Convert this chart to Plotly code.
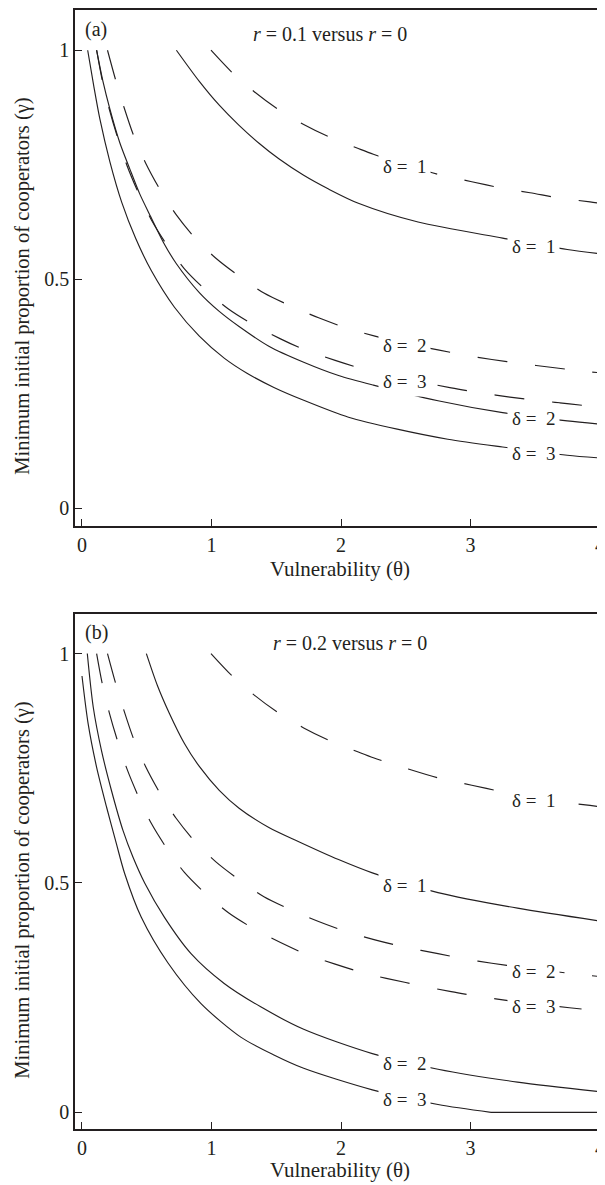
import plotly.graph_objects as go

# ---------------- data ----------------
# dashed curves: r = 0 reference (identical in both panels)
r0_d1_x = [0.996, 1.157, 1.328, 1.515, 1.712, 1.922, 2.129, 2.25, 2.5, 2.749, 3.01, 3.242, 3.46, 3.695, 3.923, 4.0]
r0_d1_y = [1.0, 0.952, 0.910, 0.871, 0.838, 0.809, 0.786, 0.773, 0.750, 0.729, 0.713, 0.699, 0.689, 0.677, 0.669, 0.666]
r0_d2_x = [0.197, 0.259, 0.325, 0.401, 0.491, 0.604, 0.727, 0.873, 1.034, 1.218, 1.405, 1.618, 1.827, 2.05, 2.262, 2.493, 2.749, 2.946, 3.165, 3.396, 3.618, 3.854, 4.0]
r0_d2_y = [1.0, 0.936, 0.875, 0.812, 0.754, 0.695, 0.641, 0.590, 0.546, 0.506, 0.470, 0.441, 0.416, 0.393, 0.376, 0.360, 0.346, 0.335, 0.325, 0.316, 0.308, 0.300, 0.296]
r0_d3_x = [0.113, 0.156, 0.210, 0.274, 0.348, 0.438, 0.535, 0.658, 0.791, 0.957, 1.131, 1.328, 1.533, 1.712, 1.955, 2.186, 2.5, 2.851, 3.086, 3.304, 3.542, 3.764, 4.0]
r0_d3_y = [1.0, 0.935, 0.872, 0.810, 0.748, 0.687, 0.630, 0.574, 0.523, 0.476, 0.435, 0.400, 0.370, 0.347, 0.323, 0.303, 0.283, 0.263, 0.252, 0.243, 0.235, 0.228, 0.221]

# panel (a): r = 0.1 (solid)
a_d1_x = [0.729, 0.906, 1.060, 1.213, 1.367, 1.520, 1.712, 1.904, 2.134, 2.595, 3.248, 3.747, 4.0]
a_d1_y = [1.0, 0.932, 0.880, 0.836, 0.797, 0.763, 0.727, 0.697, 0.666, 0.625, 0.590, 0.565, 0.556]
a_d2_x = [0.113, 0.161, 0.215, 0.292, 0.369, 0.445, 0.530, 0.630, 0.729, 0.906, 1.060, 1.213, 1.443, 1.712, 1.981, 2.250, 2.749, 3.248, 3.747, 4.0]
a_d2_y = [1.0, 0.933, 0.872, 0.798, 0.741, 0.687, 0.637, 0.580, 0.534, 0.471, 0.430, 0.397, 0.354, 0.319, 0.290, 0.269, 0.235, 0.209, 0.191, 0.184]
a_d3_x = [0.044, 0.092, 0.138, 0.215, 0.307, 0.415, 0.537, 0.714, 0.906, 1.098, 1.274, 1.482, 1.712, 2.058, 2.434, 2.825, 3.248, 3.747, 4.0]
a_d3_y = [1.0, 0.920, 0.850, 0.757, 0.668, 0.589, 0.518, 0.439, 0.376, 0.328, 0.295, 0.264, 0.236, 0.199, 0.173, 0.151, 0.134, 0.116, 0.110]

# panel (b): r = 0.2 (solid)
b_d1_x = [0.497, 0.583, 0.676, 0.791, 0.906, 1.060, 1.213, 1.443, 1.674, 1.981, 2.242, 2.749, 3.363, 4.0]
b_d1_y = [1.0, 0.930, 0.869, 0.804, 0.754, 0.702, 0.663, 0.621, 0.590, 0.551, 0.522, 0.479, 0.445, 0.417]
b_d2_x = [0.041, 0.087, 0.151, 0.228, 0.317, 0.394, 0.484, 0.637, 0.842, 1.098, 1.380, 1.712, 2.242, 2.749, 3.363, 4.0]
b_d2_y = [1.0, 0.883, 0.788, 0.701, 0.614, 0.556, 0.500, 0.425, 0.346, 0.281, 0.230, 0.181, 0.128, 0.094, 0.066, 0.045]
b_d3_x = [0.0, 0.048, 0.113, 0.190, 0.266, 0.330, 0.458, 0.663, 0.919, 1.226, 1.482, 1.712, 2.242, 2.749, 3.158, 4.0]
b_d3_y = [0.951, 0.846, 0.752, 0.665, 0.585, 0.520, 0.425, 0.326, 0.237, 0.164, 0.125, 0.096, 0.049, 0.017, 0.0, 0.0]

# curve labels
a_label_text = ["δ =\u00a0 1", "δ =\u00a0 1", "δ =\u00a0 2", "δ =\u00a0 3", "δ =\u00a0 2", "δ =\u00a0 3"]
a_label_x = [2.49, 3.49, 2.49, 2.49, 3.49, 3.49]
a_label_y = [0.746, 0.571, 0.356, 0.278, 0.197, 0.120]
b_label_text = ["δ =\u00a0 1", "δ =\u00a0 1", "δ =\u00a0 2", "δ =\u00a0 3", "δ =\u00a0 2", "δ =\u00a0 3"]
b_label_x = [3.49, 2.49, 3.49, 3.49, 2.49, 2.49]
b_label_y = [0.680, 0.495, 0.308, 0.231, 0.107, 0.027]

x_ticks = [0, 1, 2, 3, 4]
y_ticks = [0, 0.5, 1]
y_tick_text = ["0", "0.5", "1"]

# ---------------- figure ----------------
INK = "#231f20"
FONT = "Liberation Serif"
DASH = "30px,28px"

fig = go.Figure()

def add_curve(x, y, dashed, xa, ya, shape="spline"):
    fig.add_trace(go.Scatter(
        x=x, y=y, mode="lines", xaxis=xa, yaxis=ya, showlegend=False, hoverinfo="skip",
        line=dict(color=INK, width=1.15, dash=DASH if dashed else "solid",
                  shape=shape, smoothing=0.8 if shape == "spline" else None)))

for (xs, ys) in [(r0_d1_x, r0_d1_y), (r0_d2_x, r0_d2_y), (r0_d3_x, r0_d3_y)]:
    add_curve(xs, ys, True, "x", "y")
    add_curve(xs, ys, True, "x2", "y2")
for (xs, ys) in [(a_d1_x, a_d1_y), (a_d2_x, a_d2_y), (a_d3_x, a_d3_y)]:
    add_curve(xs, ys, False, "x", "y")
for (xs, ys) in [(b_d1_x, b_d1_y), (b_d2_x, b_d2_y)]:
    add_curve(xs, ys, False, "x2", "y2")
# delta = 3 in panel (b) bends sharply onto the floor at gamma = 0
add_curve(b_d3_x[:-1], b_d3_y[:-1], False, "x2", "y2")
add_curve(b_d3_x[-2:], b_d3_y[-2:], False, "x2", "y2", shape="linear")

lab_font = dict(family=FONT, size=19, color=INK)
annotations = []
for t, x, y in zip(a_label_text, a_label_x, a_label_y):
    annotations.append(dict(text=t, x=x, y=y, xref="x", yref="y", showarrow=False,
                            bgcolor="white", borderpad=4, font=lab_font))
for t, x, y in zip(b_label_text, b_label_x, b_label_y):
    annotations.append(dict(text=t, x=x, y=y, xref="x2", yref="y2", showarrow=False,
                            bgcolor="white", borderpad=4, font=lab_font))

txt_font = dict(family=FONT, size=20, color=INK)
title_font = dict(family=FONT, size=21, color=INK)
ytitle_font = dict(family=FONT, size=20.5, color=INK)
annotations += [
    dict(text="(a)", x=0.0152, y=0.9822, xref="paper", yref="paper", xanchor="left", yanchor="middle",
         showarrow=False, font=txt_font),
    dict(text="(b)", x=0.0152, y=0.4434, xref="paper", yref="paper", xanchor="left", yanchor="middle",
         showarrow=False, font=txt_font),
    dict(text="<i>r</i> = 0.1 versus <i>r</i> = 0", x=0.3347, y=0.9786, xref="paper", yref="paper",
         xanchor="left", yanchor="middle", showarrow=False, font=txt_font),
    dict(text="<i>r</i> = 0.2 versus <i>r</i> = 0", x=0.3725, y=0.4347, xref="paper", yref="paper",
         xanchor="left", yanchor="middle", showarrow=False, font=txt_font),
    dict(text="Vulnerability (θ)", x=0.505, y=0.5004, xref="paper", yref="paper",
         xanchor="center", yanchor="middle", showarrow=False, font=title_font),
    dict(text="Vulnerability (θ)", x=0.505, y=-0.0366, xref="paper", yref="paper",
         xanchor="center", yanchor="middle", showarrow=False, font=title_font),
    dict(text="Minimum initial proportion of cooperators (γ)", x=-0.1004, y=0.7529, xref="paper", yref="paper",
         xanchor="center", yanchor="middle", textangle=-90, showarrow=False, font=ytitle_font),
    dict(text="Minimum initial proportion of cooperators (γ)", x=-0.1004, y=0.2132, xref="paper", yref="paper",
         xanchor="center", yanchor="middle", textangle=-90, showarrow=False, font=ytitle_font),
]

axis_common = dict(showgrid=False, zeroline=False, showline=True, linecolor=INK, linewidth=1.5,
                   mirror=True, ticks="inside", ticklen=7, tickwidth=1.3, tickcolor=INK,
                   tickfont=dict(family=FONT, size=20, color=INK), ticklabelstandoff=0,
                   ticklabeloverflow="allow")

# the page body has an 8px margin: figure size/margins chosen so the plot areas land where the reference has them
fig.update_layout(
    width=597, height=1177,
    margin=dict(l=67, r=2, t=0, b=56),
    paper_bgcolor="white", plot_bgcolor="white",
    showlegend=False,
    xaxis=dict(domain=[0, 1], anchor="y", range=[-0.054, 4.0], tickvals=x_ticks, **axis_common),
    yaxis=dict(domain=[0.5388, 1], anchor="x", range=[-0.0386, 1.0878], tickvals=y_ticks,
               ticktext=y_tick_text, **axis_common),
    xaxis2=dict(domain=[0, 1], anchor="y2", range=[-0.054, 4.0], tickvals=x_ticks, **axis_common),
    yaxis2=dict(domain=[0, 0.4603], anchor="x2", range=[-0.0363, 1.0864], tickvals=y_ticks,
                ticktext=y_tick_text, **axis_common),
    annotations=annotations,
)

fig.write_html("out.html")
